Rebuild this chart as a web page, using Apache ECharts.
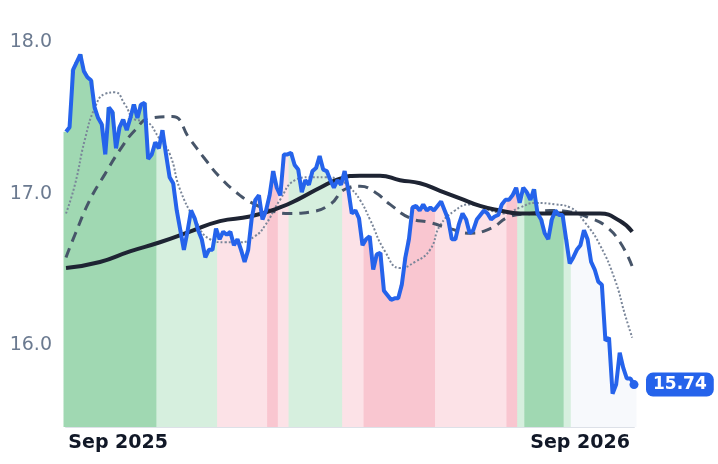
<!DOCTYPE html>
<html><head><meta charset="utf-8">
<script src="https://cdn.jsdelivr.net/npm/echarts@6/dist/echarts.min.js"></script>
<style>html,body{margin:0;padding:0;background:#fff}#c{width:718px;height:464px}</style>
</head><body><div id="c"></div>
<script>
const price = [17.41,17.44,17.82,17.87,17.92,17.81,17.77,17.75,17.57,17.50,
17.46,17.26,17.57,17.54,17.30,17.44,17.49,17.42,17.50,17.59,
17.50,17.59,17.60,17.23,17.26,17.34,17.30,17.42,17.26,17.11,
17.07,16.89,16.76,16.63,16.75,16.89,16.84,16.76,16.70,16.58,
16.63,16.63,16.77,16.70,16.75,16.73,16.75,16.66,16.70,16.63,
16.55,16.63,16.84,16.96,16.99,16.83,16.89,16.99,17.15,17.04,
16.99,17.26,17.26,17.27,17.19,17.16,17.01,17.09,17.06,17.15,
17.17,17.25,17.16,17.15,17.09,17.04,17.09,17.06,17.15,17.03,
16.87,16.89,16.84,16.66,16.70,16.72,16.50,16.60,16.61,16.36,
16.33,16.30,16.31,16.31,16.40,16.58,16.70,16.91,16.92,16.89,
16.93,16.89,16.91,16.89,16.92,16.95,16.89,16.83,16.70,16.70,
16.80,16.87,16.83,16.74,16.76,16.83,16.86,16.89,16.87,16.83,
16.85,16.86,16.93,16.96,16.96,16.99,17.04,16.94,17.04,17.01,
16.96,17.03,16.87,16.83,16.74,16.70,16.83,16.89,16.86,16.86,
16.70,16.54,16.58,16.63,16.66,16.76,16.70,16.55,16.50,16.42,
16.40,16.03,16.05,15.68,15.74,15.95,15.85,15.78,15.78,15.74];
const maLongX = [0,9.5,17.9,26.3,34.7,43.1,51.5,59.9,65.5,71.1,76.7,82.3,87.9,93.5,99.1,104.7,110.3,115.9,121.5,127.1,132.7,138.3,143.9,149.5,155.1,158.5];
const maLongY = [16.51,16.55,16.62,16.68,16.75,16.82,16.85,16.91,16.97,17.04,17.10,17.12,17.12,17.09,17.07,17.02,16.97,16.92,16.89,16.87,16.87,16.87,16.87,16.87,16.82,16.75];
const maMidX = [0,2.5,6.7,10.9,15.1,19.3,23.5,29.7,34.7,38.9,43.1,48.7,52.9,57.1,62.7,68.3,73.9,78.1,82.3,86.5,90.7,96.3,101.9,107.5,113.1,118.7,124.3,129.9,135.5,141.1,146.7,150.9,155.1,158.5];
const maMidY = [16.58,16.73,16.96,17.13,17.29,17.42,17.50,17.51,17.36,17.23,17.11,16.99,16.93,16.89,16.87,16.88,16.93,17.03,17.05,17.01,16.93,16.84,16.81,16.77,16.74,16.77,16.85,16.87,16.89,16.88,16.84,16.79,16.68,16.52];
const maShortX = [0,2.5,5.3,8.1,10.9,13.7,16.5,19.3,22.1,26.3,29.1,31.9,36.1,40.3,44.5,48.7,52.9,55.7,59.9,64.1,68.3,72.5,76.7,79.5,82.3,85.1,89.3,93.5,97.7,101.9,104.7,108.9,113.1,118.7,122.9,127.1,131.3,136.9,141.1,145.3,149.5,153.7,156.5,158.5];
const maShortY = [16.87,17.06,17.36,17.57,17.66,17.67,17.59,17.49,17.48,17.36,17.26,17.03,16.83,16.70,16.68,16.68,16.72,16.79,16.96,17.09,17.11,17.11,17.09,17.04,16.96,16.83,16.62,16.51,16.55,16.63,16.79,16.89,16.93,16.89,16.87,16.91,16.94,16.93,16.91,16.81,16.66,16.43,16.20,16.05];
const regimeStart = [0,26,43,57,60,63,78,84,104,124,127,129,140,142];
const regimeKind  = ['g2','g1','r1','r2','r1','g1','r1','r2','r1','r2','g1','g2','g1','n'];
const xTickPos = [14.6,143.9];
const xTickLabels = ['Sep 2025','Sep 2026'];
const yTicks = [16,17,18];

const palette = {
  g2:['rgb(124,198,148)','rgb(160,216,178)'],
  g1:['rgb(196,231,207)','rgb(214,239,222)'],
  r1:['rgb(251,214,221)','rgb(252,226,231)'],
  r2:['rgb(247,172,186)','rgb(249,198,208)'],
  n:['rgb(245,247,250)','rgb(247,249,252)']
};
function kindAt(i){let k='n';for(let j=0;j<regimeStart.length;j++){if(i>=regimeStart[j])k=regimeKind[j];}return k;}
const barData = price.map((v,i)=>{const c=palette[kindAt(i)];return {value:[i,v],itemStyle:{color:new echarts.graphic.LinearGradient(0,0,0,1,[{offset:0,color:c[0]},{offset:1,color:c[1]}],true)}};});
const pair=(xs,ys)=>xs.map((x,i)=>[x,ys[i]]);

const chart = echarts.init(document.getElementById('c'));
chart.setOption({
  animation:false,
  grid:{left:66,right:84,top:0,bottom:37},
  xAxis:{type:'value',min:0,max:159,
    axisLine:{show:true,lineStyle:{color:'#dde1e8',width:2}},
    axisTick:{show:false},splitLine:{show:false},
    axisLabel:{customValues:xTickPos,formatter:v=>{const k=xTickPos.indexOf(v);return k>=0?xTickLabels[k]:'';},
      color:'#111827',fontWeight:'bold',fontSize:19,fontFamily:'DejaVu Sans',margin:7}},
  yAxis:{type:'value',min:15.46,max:18.28,
    axisLine:{show:false},axisTick:{show:false},splitLine:{show:false},
    axisLabel:{customValues:yTicks,formatter:v=>v.toFixed(1),color:'#6b7a90',fontSize:19,fontFamily:'DejaVu Sans',margin:14}},
  series:[
    {type:'bar',data:barData,barWidth:5,silent:true,z:1},
    {type:'line',data:pair(maShortX,maShortY),smooth:true,symbol:'none',lineStyle:{color:'#7a8699',width:2,type:'dotted'},z:3},
    {type:'line',data:pair(maMidX,maMidY),smooth:true,symbol:'none',lineStyle:{color:'#475569',width:3,type:[10,7]},z:3},
    {type:'line',data:pair(maLongX,maLongY),smooth:true,symbol:'none',lineStyle:{color:'#1e2433',width:4},z:4},
    {type:'line',data:price.map((v,i)=>[i,v]),symbol:'none',lineStyle:{color:'#2563eb',width:4},z:5,
      endLabel:{show:true,formatter:p=>p.value[1].toFixed(2),color:'#fff',fontWeight:'bold',fontSize:17,fontFamily:'DejaVu Sans',
        backgroundColor:'#2563eb',borderRadius:7,padding:[4,7,3,7],distance:12},
      markPoint:{symbol:'circle',symbolSize:9,itemStyle:{color:'#2563eb'},label:{show:false},data:[{coord:[159,15.74]}]}}
  ]
});
</script></body></html>
